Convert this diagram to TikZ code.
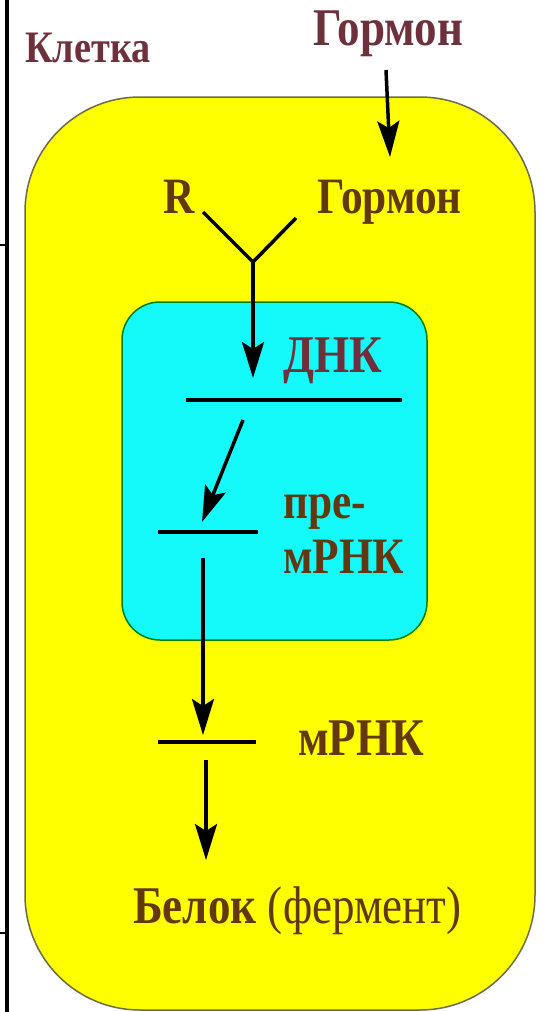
\documentclass[tikz,border=0pt]{standalone}
\usepackage{fontspec}
\setmainfont{Liberation Serif}[FakeStretch=0.85]
\usepackage{tikz}
\usetikzlibrary{arrows.meta}

\definecolor{cellyellow}{RGB}{255,255,0}
\definecolor{nuccyan}{RGB}{20,250,250}
\definecolor{maroon}{RGB}{110,48,58}
\definecolor{brownish}{RGB}{100,56,14}

\begin{document}
\begin{tikzpicture}[x=1pt, y=-1pt,
    arr/.style={line width=3.5pt, -{Stealth[length=36pt, width=22pt, inset=7pt]}},
    bar/.style={line width=3.5pt},
    lbl/.style={anchor=base west, inner sep=0pt, text=brownish, font=\fontsize{51}{55}\selectfont\bfseries}]
    \useasboundingbox (0,0) rectangle (542,1012);

    % frame lines on the left
    \draw[line width=3.5pt] (7,0) -- (7,1012);
    \draw[line width=2.5pt] (0,245) -- (7,245);
    \draw[line width=2.5pt] (0,933) -- (7,933);

    % cell and nucleus
    \draw[fill=cellyellow, draw=black!65!yellow, line width=1.5pt, rounded corners=115pt]
        (25,97) rectangle (535,1010);
    \draw[fill=nuccyan, draw=black!50!green, line width=1.5pt, rounded corners=38pt]
        (122,302) rectangle (427,640);

    % labels
    \node[lbl, text=maroon, font=\fontsize{45}{50}\selectfont\bfseries] (cell) at (25,62) {Клетка};
    \node[lbl, text=maroon, font=\fontsize{53}{58}\selectfont\bfseries] (horm) at (313,45) {Гормон};
    \node[lbl] (rec) at (163,213) {R};
    \node[lbl] (hormin) at (317,213) {Гормон};
    \node[lbl, text=maroon, font=\fontsize{53}{58}\selectfont\bfseries] (dna) at (283,372) {ДНК};
    \node[lbl] (pre) at (283,518) {пре-};
    \node[lbl] (prm) at (283,573) {мРНК};
    \node[lbl, font=\fontsize{53}{58}\selectfont\bfseries] (mrna) at (298,755) {мРНК};
    \node[lbl, font=\fontsize{53}{58}\selectfont\bfseries] (prot) at (133,923) {Белок \mdseries(фермент)};

    % hormone binding to the receptor
    \coordinate (hTail) at (386,70);
    \coordinate (hTip) at (390,157);
    \draw[arr] (hTail) -- (hTip);
    \coordinate (rEnd) at (203,212);
    \coordinate (gEnd) at (296,218);
    \coordinate (fork) at (253,262);
    \coordinate (dnaTip) at (253,378);
    \draw[bar] (rEnd) -- (fork) -- (gEnd);
    \draw[arr] (fork) -- (dnaTip);

    % DNA -> pre-mRNA -> mRNA -> protein
    \coordinate (dnaL) at (186,400);
    \coordinate (dnaR) at (402,400);
    \draw[bar] (dnaL) -- (dnaR);
    \coordinate (d1) at (243,420);
    \coordinate (d2) at (202,522);
    \draw[arr] (d1) -- (d2);

    \coordinate (preL) at (158,532);
    \coordinate (preR) at (258,532);
    \draw[bar] (preL) -- (preR);
    \coordinate (p1) at (203,558);
    \coordinate (p2) at (203,735);
    \draw[arr] (p1) -- (p2);

    \coordinate (mL) at (158,742);
    \coordinate (mR) at (256,742);
    \draw[bar] (mL) -- (mR);
    \coordinate (m1) at (206,760);
    \coordinate (m2) at (206,860);
    \draw[arr] (m1) -- (m2);
\end{tikzpicture}
\end{document}
